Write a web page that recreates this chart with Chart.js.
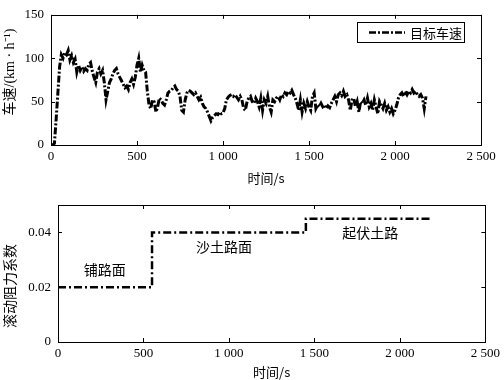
<!DOCTYPE html>
<html>
<head>
<meta charset="utf-8">
<script src="https://cdn.jsdelivr.net/npm/chart.js@4/dist/chart.umd.min.js"></script>
<style>
  html, body { margin: 0; padding: 0; background: #fff; }
  #wrap { position: relative; width: 504px; height: 380px; }
  canvas { position: absolute; left: 0; }
</style>
</head>
<body>
<div id="wrap">
  <canvas id="top" width="504" height="190" style="top:0"></canvas>
  <canvas id="bottom" width="504" height="190" style="top:190px"></canvas>
</div>
<script>
// ---------- DATA ----------
const SAMPLE_STEP = 10; // seconds between speed samples
const targetSpeed = [
  0, 0, 2, 30, 60, 90, 104, 100, 106, 104,
  109, 98, 103, 95, 99, 84, 92, 86, 90, 85,
  88, 86, 93, 95, 85, 78, 72, 84, 88, 82,
  86, 72, 52, 62, 72, 76, 82, 86, 88, 82,
  78, 74, 70, 66, 68, 64, 72, 76, 70, 78,
  92, 100, 84, 92, 86, 84, 62, 46, 42, 52,
  50, 38, 44, 54, 52, 48, 46, 52, 60, 62,
  63, 66, 68, 64, 62, 56, 40, 38, 52, 60,
  63, 62, 60, 58, 60, 56, 52, 55, 48, 44,
  42, 38, 33, 28, 32, 34, 36, 35, 38, 36,
  37, 42, 52, 55, 57, 58, 56, 58, 55, 52,
  56, 52, 42, 40, 50, 54, 56, 50, 48, 54,
  50, 44, 54, 40, 52, 48, 56, 44, 38, 52,
  50, 54, 56, 52, 58, 56, 60, 58, 62, 60,
  63, 58, 54, 48, 40, 52, 38, 48, 42, 50,
  44, 40, 56, 60, 42, 46, 44, 48, 44, 46,
  42, 45, 43, 48, 52, 56, 50, 58, 60, 57,
  62, 56, 58, 52, 40, 52, 54, 44, 50, 38,
  50, 48, 52, 46, 54, 44, 48, 40, 52, 44,
  36, 50, 46, 42, 48, 40, 44, 38, 42, 36,
  40, 46, 54, 58, 60, 56, 62, 58, 62, 60,
  64, 60, 62, 58, 56, 58, 54, 42, 56
];
const speedLabel = '目标车速';

const roadTimes = [0, 550, 550, 1450, 1450, 2180];
const rollingCoef = [0.02, 0.02, 0.04, 0.04, 0.045, 0.045];

const roadNames = ['铺路面', '沙土路面', '起伏土路'];
const roadNameX = [273, 971, 1826];
const roadNameY = [0.0263, 0.0347, 0.0398];

const timeTicks = { min: 0, max: 2500, step: 500 };
const speedTicks = { min: 0, max: 150, step: 50 };
const coefTicks = { min: 0, max: 0.05, step: 0.02 };

const xTitle = '时间/s';
const yTitleTop = '车速/(km · h⁻¹)';
const yTitleBottom = '滚动阻力系数';

// ---------- helpers ----------
const SERIF = "'Liberation Serif', 'Noto Sans CJK SC', serif";
const CJK = "'Noto Sans CJK SC', 'Liberation Serif', sans-serif";
const DASH = [8, 3, 2, 3];

function fmtTime(v) {
  if (v >= 1000) {
    const th = Math.floor(v / 1000);
    const rest = String(v % 1000).padStart(3, '0');
    return th + ' ' + rest;
  }
  return String(v);
}

const speedPoints = targetSpeed.map((v, i) => ({ x: i * SAMPLE_STEP, y: v }));
const coefPoints = roadTimes.map((t, i) => ({ x: t, y: rollingCoef[i] }));

function line(ctx, x1, y1, x2, y2) {
  ctx.beginPath(); ctx.moveTo(x1, y1); ctx.lineTo(x2, y2); ctx.stroke();
}

const boxPlugin = {
  id: 'boxTicks',
  afterDatasetsDraw(chart) {
    const { ctx, chartArea: a, scales: { x, y } } = chart;
    ctx.save();
    ctx.strokeStyle = '#000';
    ctx.lineWidth = 1;
    ctx.setLineDash([]);
    ctx.strokeRect(Math.round(a.left) + 0.5, Math.round(a.top) + 0.5,
                   Math.round(a.right - a.left), Math.round(a.bottom - a.top));
    const L = 4;
    x.ticks.forEach(t => {
      const px = Math.round(x.getPixelForValue(t.value)) + 0.5;
      line(ctx, px, a.bottom, px, a.bottom - L);
      line(ctx, px, a.top, px, a.top + L);
    });
    y.ticks.forEach(t => {
      const py = Math.round(y.getPixelForValue(t.value)) + 0.5;
      line(ctx, a.left, py, a.left + L, py);
      line(ctx, a.right, py, a.right - L, py);
    });
    ctx.restore();
  }
};

function yTitlePlugin(text, px, py, size) {
  return {
    id: 'yTitle',
    afterDraw(chart) {
      const ctx = chart.ctx;
      ctx.save();
      ctx.translate(px, py);
      ctx.rotate(-Math.PI / 2);
      ctx.font = size + 'px ' + SERIF;
      ctx.fillStyle = '#000';
      ctx.textAlign = 'center';
      ctx.textBaseline = 'middle';
      ctx.fillText(text, 0, 0);
      ctx.restore();
    }
  };
}

const legendPlugin = {
  id: 'insideLegend',
  afterDraw(chart) {
    const ctx = chart.ctx;
    const ds = chart.data.datasets[0];
    ctx.save();
    ctx.fillStyle = '#fff';
    ctx.fillRect(357, 22, 107, 20);
    ctx.strokeStyle = '#000';
    ctx.lineWidth = 1;
    ctx.strokeRect(357.5, 22.5, 107, 20);
    ctx.lineWidth = 2.5;
    ctx.setLineDash(ds.borderDash);
    line(ctx, 369, 32.5, 405, 32.5);
    ctx.setLineDash([]);
    ctx.fillStyle = '#000';
    ctx.font = '13px ' + CJK;
    ctx.textAlign = 'left';
    ctx.textBaseline = 'middle';
    ctx.fillText(ds.label, 410, 33);
    ctx.restore();
  }
};

const roadLabelPlugin = {
  id: 'roadLabels',
  afterDraw(chart) {
    const { ctx, scales: { x, y } } = chart;
    ctx.save();
    ctx.fillStyle = '#000';
    ctx.font = '14px ' + CJK;
    ctx.textAlign = 'center';
    ctx.textBaseline = 'middle';
    roadNames.forEach((n, i) => {
      ctx.fillText(n, x.getPixelForValue(roadNameX[i]), y.getPixelForValue(roadNameY[i]));
    });
    ctx.restore();
  }
};

function xScale(height, titlePadBottom) {
  return {
    type: 'linear',
    min: timeTicks.min, max: timeTicks.max,
    grid: { display: false, drawTicks: false },
    border: { display: false },
    ticks: {
      stepSize: timeTicks.step,
      color: '#000',
      font: { family: SERIF, size: 13 },
      padding: 4,
      maxRotation: 0,
      callback: v => fmtTime(v)
    },
    title: {
      display: true, text: xTitle, color: '#000',
      font: { family: CJK, size: 13 },
      padding: { top: 0, bottom: titlePadBottom }
    },
    afterFit: s => { s.height = height; }
  };
}

function yScale(t, width, cb) {
  return {
    type: 'linear',
    min: t.min, max: t.max,
    grid: { display: false, drawTicks: false },
    border: { display: false },
    ticks: {
      stepSize: t.step,
      includeBounds: false,
      color: '#000',
      font: { family: SERIF, size: 13 },
      padding: 7,
      callback: cb
    },
    afterFit: s => { s.width = width; }
  };
}

// ---------- TOP CHART ----------
new Chart(document.getElementById('top'), {
  type: 'line',
  data: {
    datasets: [{
      label: speedLabel,
      data: speedPoints,
      borderColor: '#000',
      borderWidth: 3,
      borderDash: [7, 2, 2, 2],
      pointRadius: 0,
      tension: 0,
      fill: false
    }]
  },
  options: {
    responsive: false,
    animation: false,
    devicePixelRatio: 1,
    layout: { padding: { left: 0, right: 23, top: 7, bottom: 0 } },
    plugins: { legend: { display: false }, tooltip: { enabled: false } },
    scales: {
      x: xScale(45, 4),
      y: yScale(speedTicks, 51, v => String(v))
    }
  },
  plugins: [boxPlugin, legendPlugin, yTitlePlugin(yTitleTop, 10, 72, 14)]
});

// ---------- BOTTOM CHART ----------
new Chart(document.getElementById('bottom'), {
  type: 'line',
  data: {
    datasets: [{
      label: '滚动阻力系数',
      data: coefPoints,
      borderColor: '#000',
      borderWidth: 2.5,
      borderDash: DASH,
      pointRadius: 0,
      tension: 0,
      fill: false
    }]
  },
  options: {
    responsive: false,
    animation: false,
    devicePixelRatio: 1,
    layout: { padding: { left: 0, right: 16, top: 15, bottom: 0 } },
    plugins: { legend: { display: false }, tooltip: { enabled: false } },
    scales: {
      x: xScale(38, 0),
      y: yScale(coefTicks, 58, v => (Math.abs(v) < 1e-9 ? '0' : v.toFixed(2)))
    }
  },
  plugins: [boxPlugin, roadLabelPlugin, yTitlePlugin(yTitleBottom, 11, 96, 14)]
});
</script>
</body>
</html>
